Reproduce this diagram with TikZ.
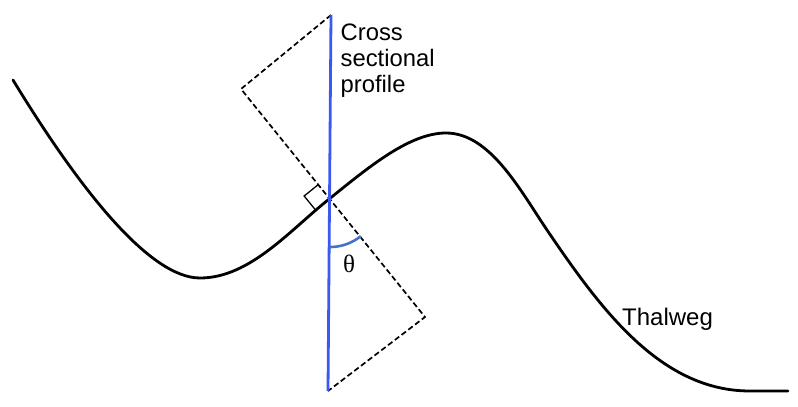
\documentclass[tikz,border=0pt]{standalone}
\usepackage{fontspec}
\setmainfont{Liberation Sans}
\newfontfamily\grfont{Liberation Serif}
\usetikzlibrary{calc}
\definecolor{profblue}{RGB}{59,89,241}
\definecolor{arcblue}{RGB}{68,114,196}
\tikzset{
  thalweg/.style={line width=2.8pt, black, line cap=round},
  profline/.style={line width=2.8pt, profblue},
  dashbox/.style={line width=1.7pt, dash pattern=on 5.5pt off 3pt, black},
  rightmark/.style={line width=1.3pt, black},
  lbl/.style={inner sep=0pt, font=\fontsize{23.8}{26}\selectfont},
}
\begin{document}
\begin{tikzpicture}[x=1pt,y=-1pt]
\useasboundingbox (0,0) rectangle (798,407);
\coordinate (T) at (331,15);
\coordinate (B) at (328,391);
\coordinate (L) at (241,89);
\coordinate (R) at (425,317);
\coordinate (P) at (intersection of T--B and L--R);
% thalweg
\coordinate (t0) at (13,80);
\coordinate (t1) at (200,278);
\coordinate (t3) at (446,133);
\coordinate (t4) at (547,230);
\coordinate (t5) at (750,391);
\coordinate (t6) at (788,391);
\draw[thalweg] (t0) .. controls (80,190) and (150,278) .. (t1)
  .. controls (250,278) and (290,230) .. (P)
  .. controls (370,166) and (410,133) .. (t3)
  .. controls (490,133) and (520,190) .. (t4)
  .. controls (600,308) and (660,391) .. (t5) -- (t6);
% dashed profile frame
\draw[dashbox] (T) -- (L) -- (R) -- (B);
% cross-sectional profile line
\draw[profline] (T) -- (B);
% right-angle mark
\coordinate (ra1) at ($(P)+(-11.4,-14)$);
\coordinate (ra2) at ($(P)+(-14,11.3)$);
\coordinate (rac) at ($(ra1)+(ra2)-(P)$);
\draw[rightmark] (ra1) -- (rac) -- (ra2);
% angle arc
\draw[line width=2.6pt, arcblue] plot[domain=51.1:90.5, variable=\t, samples=30, smooth]
  ({330+49*cos(\t)},{198+49*sin(\t)});
\node[inner sep=0pt, font=\grfont\fontsize{25}{28}\selectfont] (theta) at (349,264) {θ};
% labels
\node[lbl, anchor=base west] (cs1) at (340.5,40) {Cross};
\node[lbl, anchor=base west] (cs2) at (340.5,66) {sectional};
\node[lbl, anchor=base west] (cs3) at (340.5,92) {profile};
\node[lbl, anchor=base west, font=\fontsize{24}{26}\selectfont] (thw) at (622,325) {Thalweg};
\end{tikzpicture}
\end{document}
